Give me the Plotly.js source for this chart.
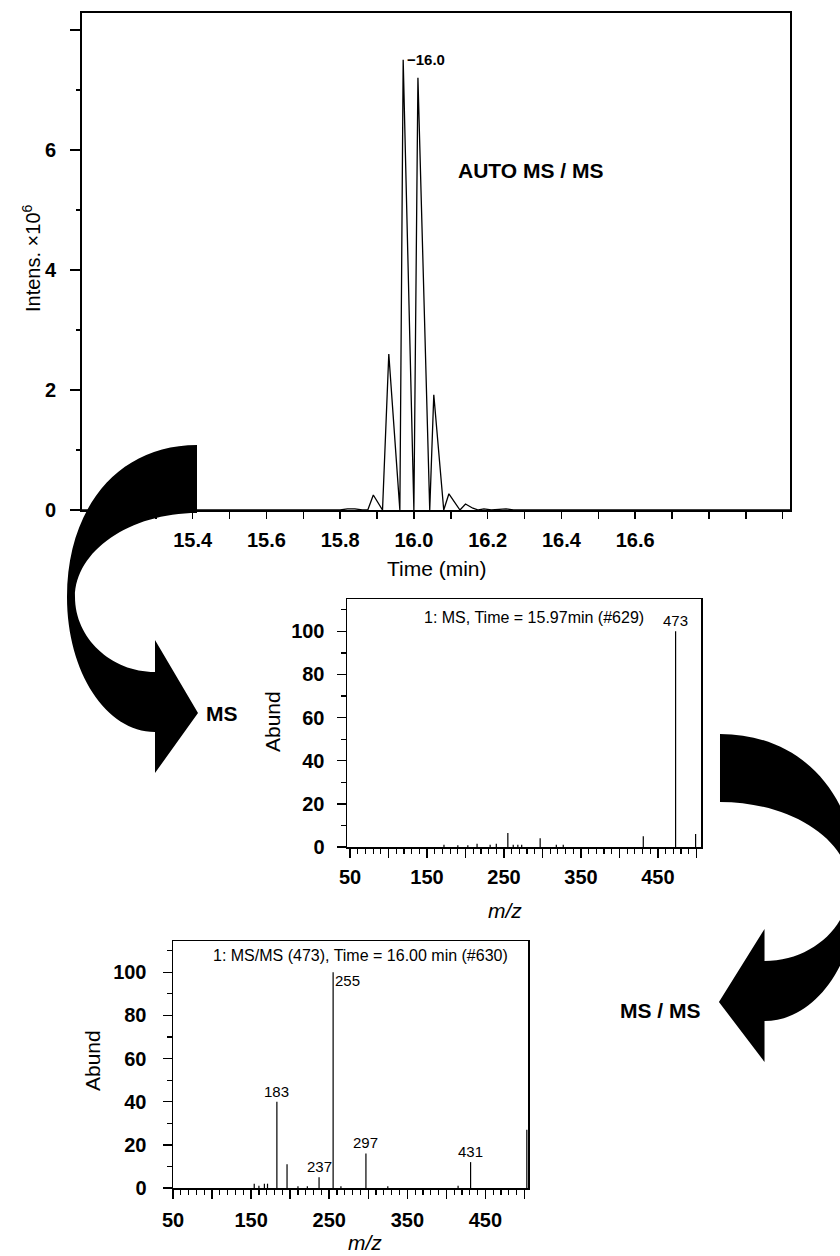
<!DOCTYPE html>
<html><head><meta charset="utf-8">
<script src="https://cdn.plot.ly/plotly-3.0.1.min.js"></script>
<style>html,body{margin:0;padding:0;background:#fff;} #chart{width:840px;height:1256px;}</style>
</head><body><div id="chart"></div>
<script>
// ---------- DATA ----------
// Total ion chromatogram (Intens. x10^6 vs time in min)
const chromTime   = [15.10, 15.80, 15.82, 15.84, 15.86, 15.875, 15.89, 15.915, 15.932, 15.962, 15.971, 16.000, 16.011, 16.043, 16.054, 16.081, 16.095, 16.125, 16.14, 16.16, 16.175, 16.19, 16.21, 16.25, 16.27, 17.02];
const chromIntens = [0,     0,     0.02,  0.02,  0,     0,      0.25,  0,      2.6,    0,      7.5,    0,      7.2,    0,      1.92,   0,      0.27,   0,      0.10,  0.03,  0,      0.02,  0,     0.02,  0,     0];
const timeTicks     = [15.2, 15.3, 15.4, 15.5, 15.6, 15.7, 15.8, 15.9, 16.0, 16.1, 16.2, 16.3, 16.4, 16.5, 16.6, 16.7, 16.8, 16.9, 17.0];
const timeTickText  = ['', '', '15.4', '', '15.6', '', '15.8', '', '16.0', '', '16.2', '', '16.4', '', '16.6', '', '', '', ''];
const intensTicks    = [0, 2, 4, 6, 8];
const intensTickText = ['0', '2', '4', '6', ''];
const intensMinor    = [1, 3, 5, 7];
const apexTime = 15.971, apexIntens = 7.5, apexLabel = '\u221216.0';

// MS spectrum at 15.97 min (#629)
const msMz    = [172, 190, 203, 215, 232, 240, 255, 262, 268, 273, 297, 318, 327, 431, 473, 499];
const msAbund = [1,   0.8, 0.8, 1.5, 1,   1.5, 6.5, 1,   1,   1,   4,   1,   1,   5,   100, 6];
const msLabelMz   = [473];
const msLabelText = ['473'];

// MS/MS spectrum of 473 at 16.00 min (#630)
const msmsMz    = [154, 160, 167, 171, 183, 196, 210, 222, 237, 255, 265, 297, 325, 415, 431, 503];
const msmsAbund = [2,   1,   2,   2,   40,  11,  0.8, 0.8, 5,   100, 0.8, 16,  0.8, 1,   12,  27];
const msmsLabelMz   = [183, 237, 255, 297, 431];
const msmsLabelText = ['183', '237', '255', '297', '431'];

const mzTicks     = [50, 100, 150, 200, 250, 300, 350, 400, 450, 500];
const mzTickText  = ['50', '', '150', '', '250', '', '350', '', '450', ''];
const abundTicks  = [0, 20, 40, 60, 80, 100];
const abundMinor  = [10, 30, 50, 70, 90, 110];

// ---------- HELPERS ----------
const W = 840, H = 1256;
const fx = x => x / W;
const fy = y => 1 - y / H;
const FONT = 'Liberation Sans, Arial, Helvetica, sans-serif';

function sticks(mz, ab) {
  const xs = [], ys = [];
  mz.forEach((m, i) => { xs.push(m, m, null); ys.push(0, ab[i], null); });
  return {xs, ys};
}
let mzMinor = [];
for (let v = 50; v <= 500; v += 10) if (v % 50 !== 0) mzMinor.push(v);

const ms = sticks(msMz, msAbund);
const msms = sticks(msmsMz, msmsAbund);

const traces = [
  {type: 'scatter', mode: 'lines', x: chromTime, y: chromIntens, xaxis: 'x', yaxis: 'y',
   line: {color: '#000', width: 1.3}, hoverinfo: 'skip'},
  {type: 'scatter', mode: 'lines', x: ms.xs, y: ms.ys, xaxis: 'x2', yaxis: 'y2',
   line: {color: '#000', width: 1.2}, connectgaps: false, hoverinfo: 'skip'},
  {type: 'scatter', mode: 'lines', x: msms.xs, y: msms.ys, xaxis: 'x3', yaxis: 'y3',
   line: {color: '#000', width: 1.2}, connectgaps: false, hoverinfo: 'skip'}
];

const tickFont = {family: FONT, size: 20, color: '#000', weight: 'bold'};
function baseAxis(extra) {
  return Object.assign({
    showline: true, linecolor: '#000', mirror: true, showgrid: false, zeroline: false,
    ticks: 'outside', tickcolor: '#000', tickwidth: 1.5, tickfont: tickFont,
    tickmode: 'array', fixedrange: true
  }, extra);
}

// Curved arrows (decoration), drawn in pixel space and converted to paper space
const arrowSegs = [
  ['M', 197, 445],
  ['C', 118, 445, 67, 508, 67, 597],
  ['C', 67, 672, 106, 732, 155, 732],
  ['L', 155, 773],
  ['L', 198, 713],
  ['L', 155, 640],
  ['L', 155, 672],
  ['C', 111, 672, 75, 638, 75, 597],
  ['C', 75, 551, 130, 513, 197, 513],
  ['Z']
];
function toPath(segs, tf) {
  return segs.map(s => {
    let out = s[0];
    for (let i = 1; i < s.length; i += 2) {
      const p = tf(s[i], s[i + 1]);
      out += (i > 1 ? ' ' : '') + fx(p[0]).toFixed(5) + ',' + fy(p[1]).toFixed(5);
    }
    return out;
  }).join(' ');
}
const leftArrow = toPath(arrowSegs, (x, y) => [x, y]);
const rightArrow = toPath(arrowSegs, (x, y) => [720 + (197 - x) * 1.06, y + 289]);

function txt(text, x, y, size, opts) {
  return Object.assign({
    text: text, xref: 'paper', yref: 'paper', x: fx(x), y: fy(y),
    xanchor: 'center', yanchor: 'middle', showarrow: false,
    font: {family: FONT, size: size, color: '#000'}
  }, opts || {});
}

const annotations = [
  txt('AUTO MS / MS', 530, 171, 21, {font: {family: FONT, size: 21, color: '#000', weight: 'bold'}}),
  txt('MS', 222, 713, 21, {font: {family: FONT, size: 21, color: '#000', weight: 'bold'}}),
  txt('MS / MS', 660, 1010, 21, {font: {family: FONT, size: 21, color: '#000', weight: 'bold'}}),
  txt('Time (min)', 437, 568, 21),
  txt('Intens. \u00d710<sup>6</sup>', 31, 258, 20, {textangle: -90}),
  txt('Abund', 272, 722, 21, {textangle: -90}),
  txt('Abund', 92, 1061, 21, {textangle: -90}),
  txt('<i>m/z</i>', 505, 910, 21),
  txt('<i>m/z</i>', 365, 1242, 21),
  txt('1: MS, Time = 15.97min (#629)', 534, 617, 16),
  txt('1: MS/MS (473), Time = 16.00 min (#630)', 360, 955, 16),
  {text: apexLabel, xref: 'x', yref: 'y', x: apexTime, y: apexIntens, xanchor: 'left', yanchor: 'middle',
   xshift: 2, showarrow: false, font: {family: FONT, size: 15, color: '#000', weight: 'bold'}}
];
msLabelMz.forEach((m, i) => {
  annotations.push({text: msLabelText[i], xref: 'x2', yref: 'y2', x: m, y: msAbund[msMz.indexOf(m)],
    xanchor: 'center', yanchor: 'bottom', showarrow: false, font: {family: FONT, size: 15, color: '#000'}});
});
msmsLabelMz.forEach((m, i) => {
  const top = m === 255;
  annotations.push({text: msmsLabelText[i], xref: 'x3', yref: 'y3', x: m, y: msmsAbund[msmsMz.indexOf(m)],
    xanchor: top ? 'left' : 'center', yanchor: top ? 'top' : 'bottom', yshift: top ? 2 : 0,
    showarrow: false, font: {family: FONT, size: 15, color: '#000'}});
});

const layout = {
  width: W, height: H, margin: {l: 0, r: 0, t: 0, b: 0},
  paper_bgcolor: '#fff', plot_bgcolor: 'rgba(0,0,0,0)', showlegend: false,
  font: {family: FONT, color: '#000'},
  xaxis: baseAxis({domain: [fx(82), fx(790)], range: [15.1, 17.02], anchor: 'y',
    tickvals: timeTicks, ticktext: timeTickText, ticklen: 7, linewidth: 2, ticklabelstandoff: 4}),
  yaxis: baseAxis({domain: [fy(510), fy(13)], range: [0, 8.28], anchor: 'x',
    tickvals: intensTicks, ticktext: intensTickText, ticklen: 10, linewidth: 2, ticklabelstandoff: 10,
    minor: {tickvals: intensMinor, ticks: 'outside', ticklen: 4, tickwidth: 1.5, tickcolor: '#000'}}),
  xaxis2: baseAxis({domain: [fx(347), fx(701)], range: [46, 506], anchor: 'y2',
    tickvals: mzTicks, ticktext: mzTickText, ticklen: 9, linewidth: 1.5, ticklabelstandoff: 2,
    minor: {tickvals: mzMinor, ticks: 'outside', ticklen: 5, tickwidth: 1.2, tickcolor: '#000'}}),
  yaxis2: baseAxis({domain: [fy(847), fy(599)], range: [0, 115], anchor: 'x2',
    tickvals: abundTicks, ticklen: 9, linewidth: 1.5, ticklabelstandoff: 8,
    minor: {tickvals: abundMinor, ticks: 'outside', ticklen: 5, tickwidth: 1.2, tickcolor: '#000'}}),
  xaxis3: baseAxis({domain: [fx(173), fx(528)], range: [50, 504.5], anchor: 'y3',
    tickvals: mzTicks, ticktext: mzTickText, ticklen: 9, linewidth: 1.5, ticklabelstandoff: 4,
    minor: {tickvals: mzMinor, ticks: 'outside', ticklen: 5, tickwidth: 1.2, tickcolor: '#000'}}),
  yaxis3: baseAxis({domain: [fy(1188), fy(941)], range: [0, 114.5], anchor: 'x3',
    tickvals: abundTicks, ticklen: 9, linewidth: 1.5, ticklabelstandoff: 12,
    minor: {tickvals: abundMinor, ticks: 'outside', ticklen: 5, tickwidth: 1.2, tickcolor: '#000'}}),
  shapes: [
    {type: 'path', xref: 'paper', yref: 'paper', path: leftArrow, fillcolor: '#000', line: {width: 0}, layer: 'above'},
    {type: 'path', xref: 'paper', yref: 'paper', path: rightArrow, fillcolor: '#000', line: {width: 0}, layer: 'above'}
  ],
  annotations: annotations
};

Plotly.newPlot('chart', traces, layout, {displayModeBar: false, staticPlot: true});
</script>
</body></html>
